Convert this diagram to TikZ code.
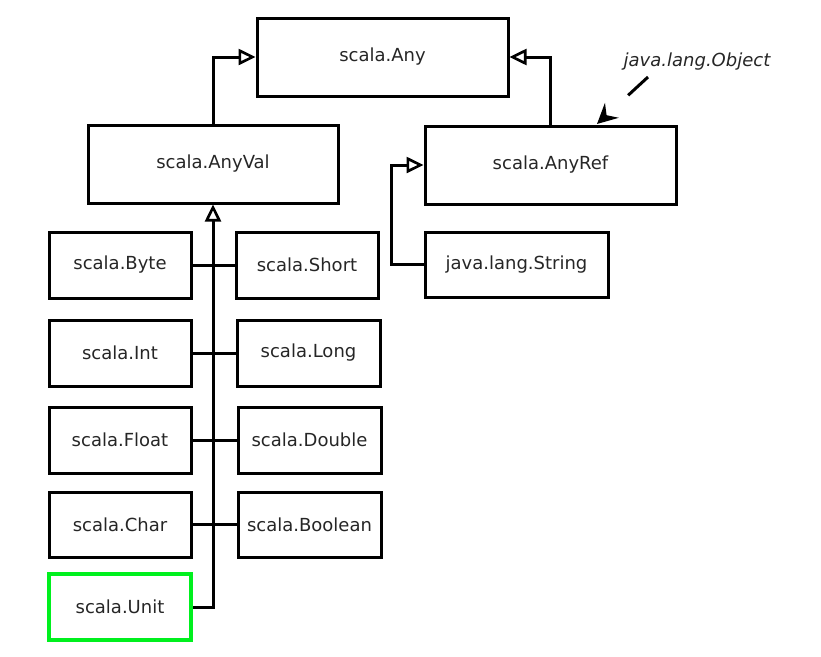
\documentclass[tikz,border=0pt]{standalone}
\usepackage{fontspec}
\setmainfont{DejaVu Sans}
\usetikzlibrary{arrows.meta}
\definecolor{txt}{gray}{0.15}
\definecolor{unitgreen}{RGB}{0,240,30}
\begin{document}
\begin{tikzpicture}[x=1pt,y=-1pt,
  box/.style={draw=black, line width=3pt, inner sep=0pt, text=txt,
    font=\fontsize{18}{22}\selectfont},
  conn/.style={draw=black, line width=3pt},
  inh/.style={conn, -{Triangle[open, length=17pt, width=16pt, line width=2.6pt]}}]
\useasboundingbox (0,0) rectangle (821,656);
\node[box, minimum width=251pt, minimum height=78pt] (any) at (382.5,57) {scala.Any};
\node[box, minimum width=250pt, minimum height=78pt] (anyval) at (213,164) {scala.AnyVal};
\node[box, minimum width=251pt, minimum height=78pt] (anyref) at (550.5,165) {scala.AnyRef};
\node[box, minimum width=183pt, minimum height=65pt] (string) at (516.5,264.5) {java.lang.String};
\node[box, minimum width=142pt, minimum height=66pt] (byte) at (120,265) {scala.Byte};
\node[box, minimum width=142pt, minimum height=66pt] (short) at (307,265) {scala.Short};
\node[box, minimum width=142pt, minimum height=66pt] (int) at (120,353) {scala.Int};
\node[box, minimum width=143pt, minimum height=66pt] (long) at (308.5,353) {scala.Long};
\node[box, minimum width=142pt, minimum height=66pt] (float) at (120,440) {scala.Float};
\node[box, minimum width=143pt, minimum height=66pt] (double) at (309.5,440) {scala.Double};
\node[box, minimum width=142pt, minimum height=65pt] (char) at (120,524.5) {scala.Char};
\node[box, minimum width=143pt, minimum height=65pt] (boolean) at (309.5,524.5) {scala.Boolean};
\node[box, draw=unitgreen, line width=4pt, minimum width=142pt, minimum height=66pt] (unit) at (120,607) {scala.Unit};
\node[text=txt, font=\fontsize{18}{22}\selectfont\itshape] (obj) at (697,62) {java.lang.Object};
\coordinate (objstart) at (648,77);
\coordinate (objtip) at (597,124);
% connectors
\draw[inh] (anyval.north) |- (any.west);
\draw[inh] (anyref.north) |- (any.east);
\draw[inh] (string.west) -- ++(-32,0) |- (anyref.west);
\draw[inh] (unit.east) -| (anyval.south);
\draw[conn] (byte.east) -- (short.west);
\draw[conn] (int.east) -- (long.west);
\draw[conn] (float.east) -- (double.west);
\draw[conn] (char.east) -- (boolean.west);
\draw[line width=3pt, dash pattern=on 27pt off 60pt, -{Stealth[length=20pt, width=20pt, inset=7pt]}] (objstart) -- (objtip);
\end{tikzpicture}
\end{document}
